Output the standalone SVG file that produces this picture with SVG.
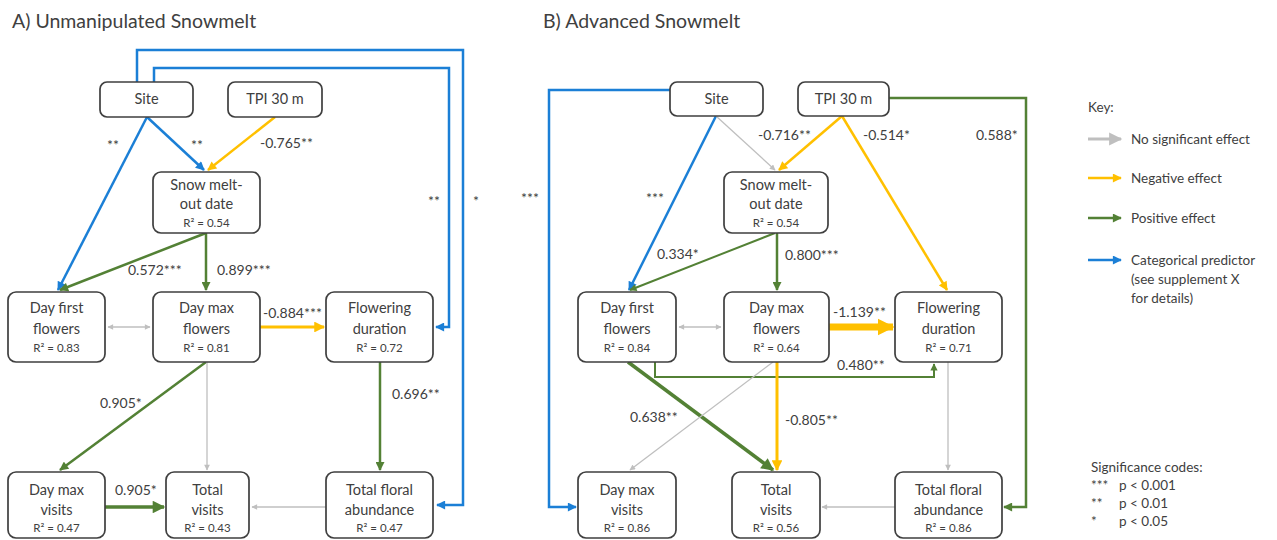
<svg xmlns="http://www.w3.org/2000/svg" width="1277" height="540" viewBox="0 0 1277 540">
<defs>
<style>
text{font-family:Lato,"Open Sans","Liberation Sans",sans-serif;fill:#404040}
.title{font-size:19.5px}
.n{font-size:14.5px;text-anchor:middle}
.r{font-size:11.5px;text-anchor:middle}
.l{font-size:14px}
.c{font-size:14px;text-anchor:middle}
.k{font-size:13.5px}
.box{fill:#fff;stroke:#3f3f3f;stroke-width:1.7}
.e{fill:none;stroke-linejoin:miter}
.blue{stroke:#1b7fd6;stroke-width:2.5}
.yel{stroke:#ffc000;stroke-width:2.5}
.grn{stroke:#538135;stroke-width:2.5}
.gry{stroke:#bfbfbf;stroke-width:1.3}
.mb{marker-end:url(#ab)}
.my{marker-end:url(#ay)}
.mg{marker-end:url(#ag)}
.mr{marker-end:url(#ar)}
</style>
<marker id="ab" viewBox="0 0 10 10" refX="9" refY="5" markerWidth="4" markerHeight="3.6" orient="auto"><path d="M0,0L10,5L0,10z" fill="#1b7fd6"/></marker>
<marker id="ay" viewBox="0 0 10 10" refX="9" refY="5" markerWidth="4" markerHeight="3.6" orient="auto"><path d="M0,0L10,5L0,10z" fill="#ffc000"/></marker>
<marker id="ay2" viewBox="0 0 10 10" refX="9" refY="5" markerWidth="2.4" markerHeight="2.5" orient="auto"><path d="M0,0L10,5L0,10z" fill="#ffc000"/></marker>
<marker id="ag" viewBox="0 0 10 10" refX="9" refY="5" markerWidth="4" markerHeight="3.6" orient="auto"><path d="M0,0L10,5L0,10z" fill="#538135"/></marker>
<marker id="ar" viewBox="0 0 10 10" refX="9" refY="5" markerWidth="5" markerHeight="4.4" orient="auto-start-reverse"><path d="M0,0L10,5L0,10z" fill="#bfbfbf"/></marker>
</defs>
<rect width="1277" height="540" fill="#fff"/>

<text class="title" x="12" y="28">A) Unmanipulated Snowmelt</text>
<text class="title" x="543" y="28">B) Advanced Snowmelt</text>

<g id="connectors">
<!-- Panel A -->
<path class="e blue mb" d="M137,82V50H463V505H437"/>
<path class="e blue mb" d="M154,82V68H449V327H436"/>
<path class="e blue mb" d="M147,117L204,170"/>
<path class="e blue mb" d="M147,117L58,290"/>
<path class="e yel my" d="M275,117L208,170"/>
<path class="e grn mg" d="M206,233L60,290"/>
<path class="e grn mg" d="M206,233V290"/>
<path class="e gry mr" style="marker-start:url(#ar)" d="M108,327H150"/>
<path class="e yel my" style="stroke-width:3" d="M260,327H324"/>
<path class="e grn mg" d="M206,362L60,470"/>
<path class="e gry mr" d="M207,362V470"/>
<path class="e grn mg" d="M380,362V470"/>
<path class="e grn mg" style="stroke-width:3.5" d="M105,507H164"/>
<path class="e gry mr" d="M326,507H252"/>
<!-- Panel B -->
<path class="e blue mb" d="M670,90H549V507H576"/>
<path class="e grn mg" d="M889,98H1026V507H1004"/>
<path class="e blue mb" d="M716,116L629,290"/>
<path class="e gry mr" d="M716,116L775,170"/>
<path class="e yel my" d="M842,116L779,170"/>
<path class="e yel my" d="M842,116L947,290"/>
<path class="e grn mg" style="stroke-width:2" d="M775,233L630,290"/>
<path class="e grn mg" d="M777,233V290"/>
<path class="e gry mr" style="marker-start:url(#ar)" d="M679,327H721"/>
<path class="e yel" style="stroke-width:7;marker-end:url(#ay2)" d="M829,327H893"/>
<path class="e grn mg" style="stroke-width:2" d="M655,362V377H934V364"/>
<path class="e grn mg" style="stroke-width:3.5" d="M628,362L773,470"/>
<path class="e gry mr" d="M773,362L630,470"/>
<path class="e yel my" style="stroke-width:3" d="M777,362V470"/>
<path class="e gry mr" d="M948,362V470"/>
<path class="e gry mr" d="M895,507H822"/>
</g>

<g id="edge-labels">
<text class="c" x="113" y="150">**</text>
<text class="c" x="197" y="150">**</text>
<text class="l" x="260" y="148">-0.765**</text>
<text class="c" x="434" y="206">**</text>
<text class="c" x="476" y="206">*</text>
<text class="l" x="128" y="275">0.572***</text>
<text class="l" x="217" y="275">0.899***</text>
<text class="l" x="263" y="318">-0.884***</text>
<text class="l" x="100" y="408">0.905*</text>
<text class="l" x="392" y="399">0.696**</text>
<text class="l" x="115" y="495">0.905*</text>

<text class="c" x="530" y="203">***</text>
<text class="c" x="655" y="203">***</text>
<text class="l" x="758" y="140">-0.716**</text>
<text class="l" x="863" y="140">-0.514*</text>
<text class="l" x="976" y="140">0.588*</text>
<text class="l" x="657" y="259">0.334*</text>
<text class="l" x="785" y="260">0.800***</text>
<text class="l" x="833" y="317">-1.139**</text>
<text class="l" x="837" y="370">0.480**</text>
<text class="l" x="630" y="422">0.638**</text>
<text class="l" x="785" y="425">-0.805**</text>
</g>

<!-- Panel A nodes -->
<g id="siteA"><rect class="box" x="100" y="82" width="93" height="35" rx="7"/><text class="n" x="146.5" y="104">Site</text></g>
<g id="tpiA"><rect class="box" x="228" y="82" width="94" height="35" rx="7"/><text class="n" x="275" y="104">TPI 30 m</text></g>
<g id="snowA"><rect class="box" x="153" y="172" width="107" height="61" rx="8"/><text class="n" x="206.5" y="190">Snow melt-</text><text class="n" x="206.5" y="209">out date</text><text class="r" x="206.5" y="227">R² = 0.54</text></g>
<g id="dffA"><rect class="box" x="8" y="292" width="97" height="70" rx="8"/><text class="n" x="56.5" y="313">Day first</text><text class="n" x="56.5" y="334">flowers</text><text class="r" x="56.5" y="352">R² = 0.83</text></g>
<g id="dmfA"><rect class="box" x="153" y="292" width="107" height="70" rx="8"/><text class="n" x="206.5" y="313">Day max</text><text class="n" x="206.5" y="334">flowers</text><text class="r" x="206.5" y="352">R² = 0.81</text></g>
<g id="fdA"><rect class="box" x="326" y="292" width="107" height="70" rx="8"/><text class="n" x="379.5" y="313">Flowering</text><text class="n" x="379.5" y="334">duration</text><text class="r" x="379.5" y="352">R² = 0.72</text></g>
<g id="dmvA"><rect class="box" x="8" y="472" width="97" height="66" rx="8"/><text class="n" x="56.5" y="495">Day max</text><text class="n" x="56.5" y="515">visits</text><text class="r" x="56.5" y="532">R² = 0.47</text></g>
<g id="tvA"><rect class="box" x="166" y="472" width="83" height="66" rx="8"/><text class="n" x="207.5" y="495">Total</text><text class="n" x="207.5" y="515">visits</text><text class="r" x="207.5" y="532">R² = 0.43</text></g>
<g id="tfaA"><rect class="box" x="326" y="472" width="107" height="66" rx="8"/><text class="n" x="379.5" y="495">Total floral</text><text class="n" x="379.5" y="515">abundance</text><text class="r" x="379.5" y="532">R² = 0.47</text></g>

<!-- Panel B nodes -->
<g id="siteB"><rect class="box" x="670" y="82" width="93" height="34" rx="7"/><text class="n" x="716.5" y="104">Site</text></g>
<g id="tpiB"><rect class="box" x="798" y="82" width="91" height="34" rx="7"/><text class="n" x="843.5" y="104">TPI 30 m</text></g>
<g id="snowB"><rect class="box" x="724" y="172" width="104" height="61" rx="8"/><text class="n" x="776" y="190">Snow melt-</text><text class="n" x="776" y="209">out date</text><text class="r" x="776" y="227">R² = 0.54</text></g>
<g id="dffB"><rect class="box" x="578" y="292" width="98" height="70" rx="8"/><text class="n" x="627" y="313">Day first</text><text class="n" x="627" y="334">flowers</text><text class="r" x="627" y="352">R² = 0.84</text></g>
<g id="dmfB"><rect class="box" x="724" y="292" width="105" height="70" rx="8"/><text class="n" x="776.5" y="313">Day max</text><text class="n" x="776.5" y="334">flowers</text><text class="r" x="776.5" y="352">R² = 0.64</text></g>
<g id="fdB"><rect class="box" x="895" y="292" width="107" height="70" rx="8"/><text class="n" x="948.5" y="313">Flowering</text><text class="n" x="948.5" y="334">duration</text><text class="r" x="948.5" y="352">R² = 0.71</text></g>
<g id="dmvB"><rect class="box" x="578" y="472" width="98" height="66" rx="8"/><text class="n" x="627" y="495">Day max</text><text class="n" x="627" y="515">visits</text><text class="r" x="627" y="532">R² = 0.86</text></g>
<g id="tvB"><rect class="box" x="732" y="472" width="88" height="66" rx="8"/><text class="n" x="776" y="495">Total</text><text class="n" x="776" y="515">visits</text><text class="r" x="776" y="532">R² = 0.56</text></g>
<g id="tfaB"><rect class="box" x="895" y="472" width="107" height="66" rx="8"/><text class="n" x="948.5" y="495">Total floral</text><text class="n" x="948.5" y="515">abundance</text><text class="r" x="948.5" y="532">R² = 0.86</text></g>

<!-- Key -->
<g id="key">
<text class="k" x="1088" y="112">Key:</text>
<path class="e gry mr" style="stroke-width:3" d="M1088,139H1121"/>
<text class="k" x="1131" y="144">No significant effect</text>
<path class="e yel my" d="M1088,178H1121"/>
<text class="k" x="1131" y="183">Negative effect</text>
<path class="e grn mg" d="M1088,218H1121"/>
<text class="k" x="1131" y="223">Positive effect</text>
<path class="e blue mb" d="M1088,260H1121"/>
<text class="k" x="1131" y="265">Categorical predictor</text>
<text class="k" x="1131" y="284">(see supplement X</text>
<text class="k" x="1131" y="303">for details)</text>
</g>
<g id="sig">
<text class="k" x="1091" y="472">Significance codes:</text>
<text class="k" x="1091" y="490">***</text><text class="k" x="1119" y="490">p &lt; 0.001</text>
<text class="k" x="1091" y="508">**</text><text class="k" x="1119" y="508">p &lt; 0.01</text>
<text class="k" x="1091" y="526">*</text><text class="k" x="1119" y="526">p &lt; 0.05</text>
</g>
</svg>
